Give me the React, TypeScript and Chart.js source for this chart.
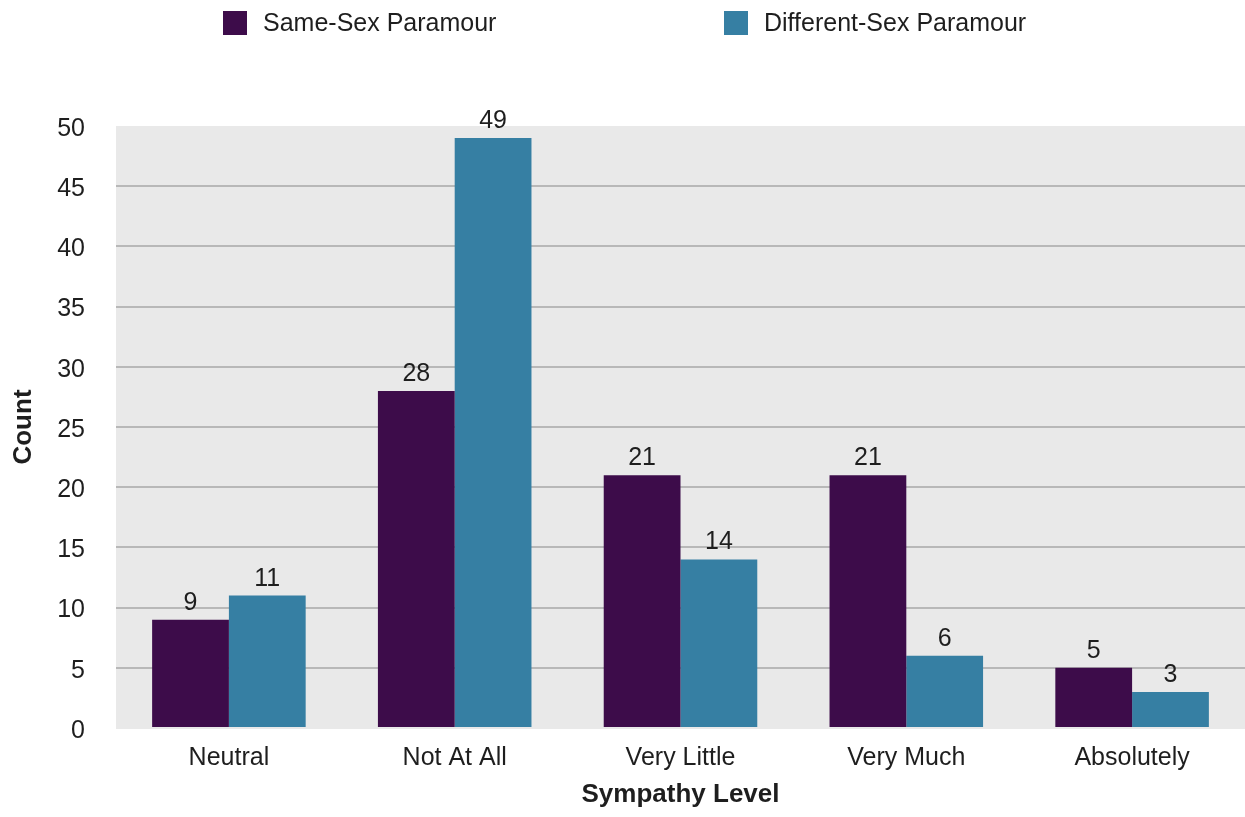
import React, { useEffect, useRef } from "react";
import { Chart, registerables } from "chart.js";

Chart.register(...registerables);

const categories = ["Neutral", "Not At All", "Very Little", "Very Much", "Absolutely"];
const sameSexValues = [9, 28, 21, 21, 5];
const differentSexValues = [11, 49, 14, 6, 3];
const seriesLabels = ["Same-Sex Paramour", "Different-Sex Paramour"];
const seriesColors = ["#3d0c4a", "#367fa3"];

const FONT = '"Helvetica Neue", "Liberation Sans", Arial, sans-serif';
const TEXT = "#1e1e1e";

const plotBackground = {
  id: "plotBackground",
  beforeDraw(chart: any) {
    const { ctx, chartArea } = chart;
    ctx.save();
    ctx.fillStyle = "#e9e9e9";
    ctx.fillRect(chartArea.left, chartArea.top, chartArea.right - chartArea.left, chartArea.bottom - chartArea.top + 1);
    ctx.restore();
  },
};

const valueLabels = {
  id: "valueLabels",
  afterDatasetsDraw(chart: any) {
    const { ctx } = chart;
    ctx.save();
    ctx.font = `25px ${FONT}`;
    ctx.fillStyle = TEXT;
    ctx.textAlign = "center";
    ctx.textBaseline = "alphabetic";
    chart.data.datasets.forEach((ds: any, di: number) => {
      const meta = chart.getDatasetMeta(di);
      meta.data.forEach((bar: any, i: number) => {
        ctx.fillText(String(ds.data[i]), bar.x, bar.y - 10);
      });
    });
    ctx.restore();
  },
};

const topLegend = {
  id: "topLegend",
  afterDraw(chart: any) {
    const { ctx } = chart;
    const xs = [223, 724];
    const box = 24;
    const cy = 23;
    ctx.save();
    ctx.font = `25px ${FONT}`;
    ctx.textBaseline = "middle";
    ctx.textAlign = "left";
    chart.data.datasets.forEach((ds: any, i: number) => {
      ctx.fillStyle = ds.backgroundColor;
      ctx.fillRect(xs[i], cy - box / 2, box, box);
      ctx.fillStyle = TEXT;
      ctx.fillText(ds.label, xs[i] + box + 16, cy + 1);
    });
    ctx.restore();
  },
};

export default function App() {
  const canvasRef = useRef<HTMLCanvasElement | null>(null);

  useEffect(() => {
    if (!canvasRef.current) return;
    const chart = new Chart(canvasRef.current, {
      type: "bar",
      data: {
        labels: categories,
        datasets: [
          { label: seriesLabels[0], data: sameSexValues, backgroundColor: seriesColors[0], borderWidth: 0 },
          { label: seriesLabels[1], data: differentSexValues, backgroundColor: seriesColors[1], borderWidth: 0 },
        ],
      },
      options: {
        responsive: false,
        animation: false,
        devicePixelRatio: 1,
        layout: { padding: { top: 126, right: 0, bottom: 0, left: 0 } },
        plugins: {
          legend: { display: false },
          tooltip: { enabled: false },
        },
        datasets: {
          bar: { categoryPercentage: 0.68, barPercentage: 1 },
        },
        scales: {
          x: {
            grid: { display: false, drawTicks: false },
            border: { display: false },
            ticks: { color: TEXT, font: { family: FONT, size: 25 }, padding: 15 },
            title: {
              display: true,
              text: "Sympathy Level",
              color: TEXT,
              font: { family: FONT, size: 26, weight: "bold" },
              padding: { top: 0, bottom: 7 },
            },
            afterFit(scale: any) {
              scale.height = 89;
            },
          },
          y: {
            min: 0,
            max: 50,
            grid: {
              drawTicks: false,
              lineWidth: 2,
              color: (c: any) => (c.tick && (c.tick.value === 0 || c.tick.value === 50) ? "rgba(0,0,0,0)" : "#b8b8b8"),
            },
            border: { display: false },
            ticks: { stepSize: 5, color: TEXT, font: { family: FONT, size: 25 }, padding: 31, labelOffset: 3 },
            title: {
              display: true,
              text: "Count",
              color: TEXT,
              font: { family: FONT, size: 26, weight: "bold" },
              padding: { top: 8, bottom: 0 },
            },
            afterFit(scale: any) {
              scale.width = 116;
            },
          },
        },
      },
      plugins: [plotBackground, valueLabels, topLegend],
    });
    return () => chart.destroy();
  }, []);

  return (
    <div style={{ position: "absolute", left: 0, top: 0, width: 1245, height: 817, background: "#fff" }}>
      <canvas ref={canvasRef} width={1245} height={817} style={{ display: "block" }} />
    </div>
  );
}
